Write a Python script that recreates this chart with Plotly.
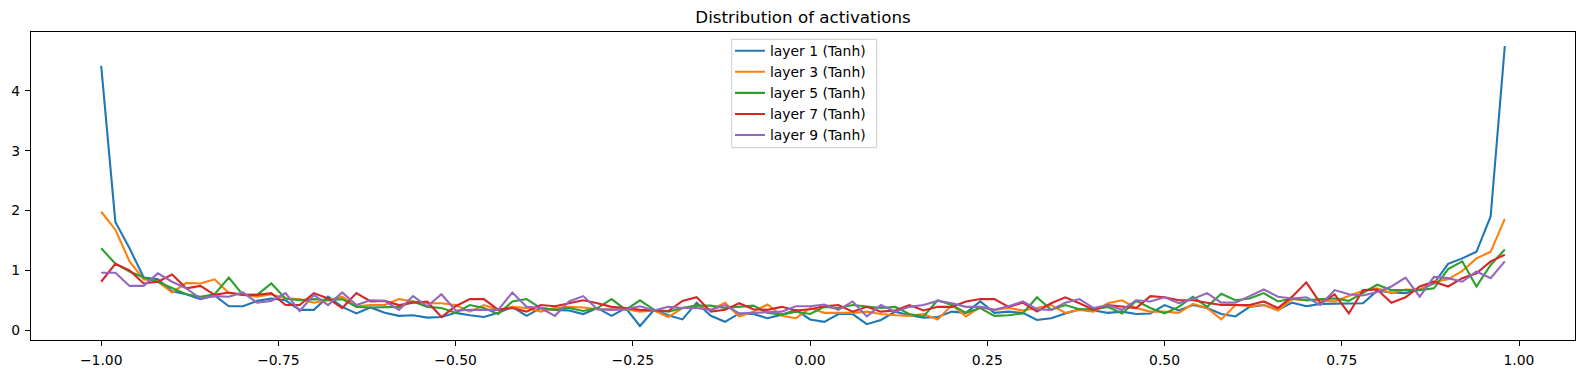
import numpy as np
import plotly.graph_objects as go

# bin left edges: -1.00 ... 0.98 (step 0.02)
bin_edges = [round(-1.0 + 0.02 * i, 2) for i in range(100)]

layer1 = [4.42, 1.81, 1.37, 0.88, 0.85, 0.65, 0.60, 0.52, 0.58, 0.40,
          0.40, 0.49, 0.53, 0.50, 0.34, 0.34, 0.56, 0.39, 0.28, 0.38,
          0.29, 0.24, 0.25, 0.21, 0.22, 0.29, 0.25, 0.22, 0.29, 0.39,
          0.24, 0.37, 0.34, 0.33, 0.27, 0.37, 0.24, 0.37, 0.07, 0.34,
          0.25, 0.18, 0.46, 0.24, 0.14, 0.28, 0.27, 0.20, 0.26, 0.34,
          0.18, 0.14, 0.27, 0.27, 0.10, 0.17, 0.31, 0.25, 0.21, 0.22,
          0.31, 0.29, 0.48, 0.29, 0.31, 0.29, 0.17, 0.20, 0.28, 0.35,
          0.33, 0.29, 0.31, 0.27, 0.28, 0.42, 0.33, 0.42, 0.37, 0.27,
          0.23, 0.39, 0.42, 0.34, 0.46, 0.40, 0.44, 0.44, 0.44, 0.45,
          0.66, 0.63, 0.62, 0.68, 0.78, 1.11, 1.20, 1.31, 1.90, 4.75]

layer3 = [1.98, 1.68, 1.15, 0.85, 0.81, 0.63, 0.79, 0.78, 0.85, 0.62,
          0.59, 0.56, 0.60, 0.53, 0.52, 0.46, 0.50, 0.56, 0.40, 0.42,
          0.42, 0.52, 0.48, 0.45, 0.45, 0.42, 0.31, 0.42, 0.34, 0.39,
          0.37, 0.31, 0.37, 0.39, 0.38, 0.35, 0.35, 0.35, 0.31, 0.33,
          0.22, 0.37, 0.41, 0.34, 0.46, 0.23, 0.31, 0.43, 0.24, 0.20,
          0.37, 0.29, 0.29, 0.29, 0.31, 0.27, 0.25, 0.24, 0.27, 0.18,
          0.42, 0.23, 0.39, 0.34, 0.37, 0.33, 0.37, 0.42, 0.29, 0.34,
          0.31, 0.45, 0.50, 0.37, 0.31, 0.31, 0.29, 0.44, 0.37, 0.18,
          0.42, 0.40, 0.42, 0.33, 0.52, 0.50, 0.50, 0.48, 0.57, 0.66,
          0.70, 0.62, 0.68, 0.67, 0.81, 0.85, 0.99, 1.20, 1.31, 1.86]

layer5 = [1.37, 1.11, 0.98, 0.88, 0.81, 0.70, 0.60, 0.56, 0.60, 0.88,
          0.59, 0.59, 0.78, 0.53, 0.50, 0.52, 0.50, 0.52, 0.39, 0.38,
          0.39, 0.39, 0.48, 0.39, 0.37, 0.29, 0.42, 0.37, 0.27, 0.48,
          0.52, 0.37, 0.34, 0.37, 0.32, 0.37, 0.52, 0.34, 0.50, 0.34,
          0.31, 0.37, 0.41, 0.41, 0.37, 0.39, 0.41, 0.29, 0.26, 0.31,
          0.27, 0.39, 0.37, 0.42, 0.39, 0.37, 0.39, 0.27, 0.23, 0.50,
          0.42, 0.29, 0.37, 0.24, 0.25, 0.28, 0.55, 0.34, 0.42, 0.35,
          0.35, 0.39, 0.28, 0.49, 0.37, 0.28, 0.39, 0.56, 0.39, 0.61,
          0.50, 0.53, 0.62, 0.48, 0.53, 0.50, 0.52, 0.53, 0.49, 0.62,
          0.76, 0.67, 0.67, 0.67, 0.70, 1.02, 1.15, 0.73, 1.09, 1.35]

layer7 = [0.81, 1.11, 1.00, 0.78, 0.81, 0.93, 0.70, 0.74, 0.59, 0.63,
          0.59, 0.59, 0.62, 0.42, 0.42, 0.62, 0.53, 0.37, 0.62, 0.48,
          0.49, 0.42, 0.46, 0.48, 0.22, 0.40, 0.52, 0.52, 0.34, 0.37,
          0.31, 0.42, 0.40, 0.45, 0.50, 0.45, 0.39, 0.37, 0.34, 0.33,
          0.32, 0.49, 0.55, 0.31, 0.34, 0.45, 0.35, 0.34, 0.39, 0.33,
          0.35, 0.40, 0.42, 0.31, 0.39, 0.31, 0.33, 0.42, 0.33, 0.39,
          0.39, 0.48, 0.52, 0.52, 0.39, 0.46, 0.31, 0.45, 0.55, 0.45,
          0.34, 0.42, 0.40, 0.37, 0.57, 0.55, 0.50, 0.50, 0.46, 0.42,
          0.42, 0.42, 0.48, 0.37, 0.56, 0.80, 0.45, 0.60, 0.28, 0.67,
          0.68, 0.46, 0.55, 0.73, 0.81, 0.73, 0.87, 0.95, 1.15, 1.26]

layer9 = [0.96, 0.96, 0.74, 0.74, 0.95, 0.81, 0.70, 0.53, 0.57, 0.56,
          0.63, 0.46, 0.49, 0.62, 0.32, 0.59, 0.42, 0.63, 0.42, 0.50,
          0.49, 0.34, 0.57, 0.40, 0.60, 0.33, 0.34, 0.34, 0.34, 0.63,
          0.39, 0.37, 0.24, 0.48, 0.57, 0.35, 0.34, 0.35, 0.40, 0.33,
          0.39, 0.37, 0.37, 0.34, 0.42, 0.28, 0.29, 0.31, 0.31, 0.40,
          0.40, 0.43, 0.34, 0.48, 0.23, 0.42, 0.31, 0.39, 0.42, 0.49,
          0.45, 0.39, 0.39, 0.34, 0.40, 0.48, 0.35, 0.34, 0.46, 0.52,
          0.37, 0.42, 0.34, 0.50, 0.48, 0.55, 0.45, 0.52, 0.62, 0.46,
          0.46, 0.57, 0.68, 0.56, 0.53, 0.55, 0.42, 0.67, 0.60, 0.58,
          0.64, 0.73, 0.88, 0.56, 0.89, 0.87, 0.81, 0.98, 0.87, 1.15]

series_names = ["layer 1 (Tanh)", "layer 3 (Tanh)", "layer 5 (Tanh)",
                "layer 7 (Tanh)", "layer 9 (Tanh)"]
series_values = [layer1, layer3, layer5, layer7, layer9]
colors = ["#1f77b4", "#ff7f0e", "#2ca02c", "#d62728", "#9467bd"]

x_ticks = [-1.0, -0.75, -0.5, -0.25, 0.0, 0.25, 0.5, 0.75, 1.0]
x_ticktext = [("\u2212" if v < 0 else "") + f"{abs(v):.2f}" for v in x_ticks]
y_ticks = [0, 1, 2, 3, 4]

fig = go.Figure()
for name, vals, c in zip(series_names, series_values, colors):
    fig.add_trace(go.Scatter(x=bin_edges, y=vals, mode="lines", name=name,
                             line=dict(color=c, width=2.1)))

font = "DejaVu Sans"
fig.update_layout(
    width=1588, height=374,
    margin=dict(l=31, r=13, t=32, b=34, pad=0, autoexpand=False),
    paper_bgcolor="white", plot_bgcolor="white",
    font=dict(family=font, size=14, color="black"),
    title=dict(text="Distribution of activations", x=0.5, xref="paper",
               y=0.954, yref="container", xanchor="center", yanchor="middle",
               automargin=False,
               font=dict(family=font, size=16.7, color="black")),
    showlegend=True,
    legend=dict(x=0.4527, y=0.9896, xanchor="left", yanchor="top",
                bgcolor="rgba(0,0,0,0)", borderwidth=0,
                font=dict(family=font, size=13.9),
                itemwidth=30, tracegroupgap=0),
    shapes=[dict(type="rect", xref="paper", yref="paper",
                 x0=0.4538, x1=0.5477, y0=0.6244, y1=0.9763,
                 fillcolor="rgba(255,255,255,0.8)",
                 line=dict(color="#cccccc", width=1), layer="above")],
)
fig.update_xaxes(range=[-1.099, 1.079], tickvals=x_ticks, ticktext=x_ticktext,
                 automargin=False,
                 showgrid=False, zeroline=False, showline=True, mirror=True,
                 linecolor="black", linewidth=1.1, ticks="outside",
                 ticklen=5, tickwidth=1.1, tickcolor="black",
                 ticklabelstandoff=2,
                 tickfont=dict(family=font, size=13.9, color="black"))
fig.update_yaxes(range=[-0.164, 4.984], tickvals=y_ticks,
                 ticktext=[str(v) for v in y_ticks],
                 automargin=False,
                 showgrid=False, zeroline=False, showline=True, mirror=True,
                 linecolor="black", linewidth=1.1, ticks="outside",
                 ticklen=5, tickwidth=1.1, tickcolor="black",
                 ticklabelstandoff=2,
                 tickfont=dict(family=font, size=13.9, color="black"))

fig.write_html("out.html",
               config={"displayModeBar": False},
               post_script="document.body.style.margin='0';"
                           "document.body.style.overflow='hidden';")
